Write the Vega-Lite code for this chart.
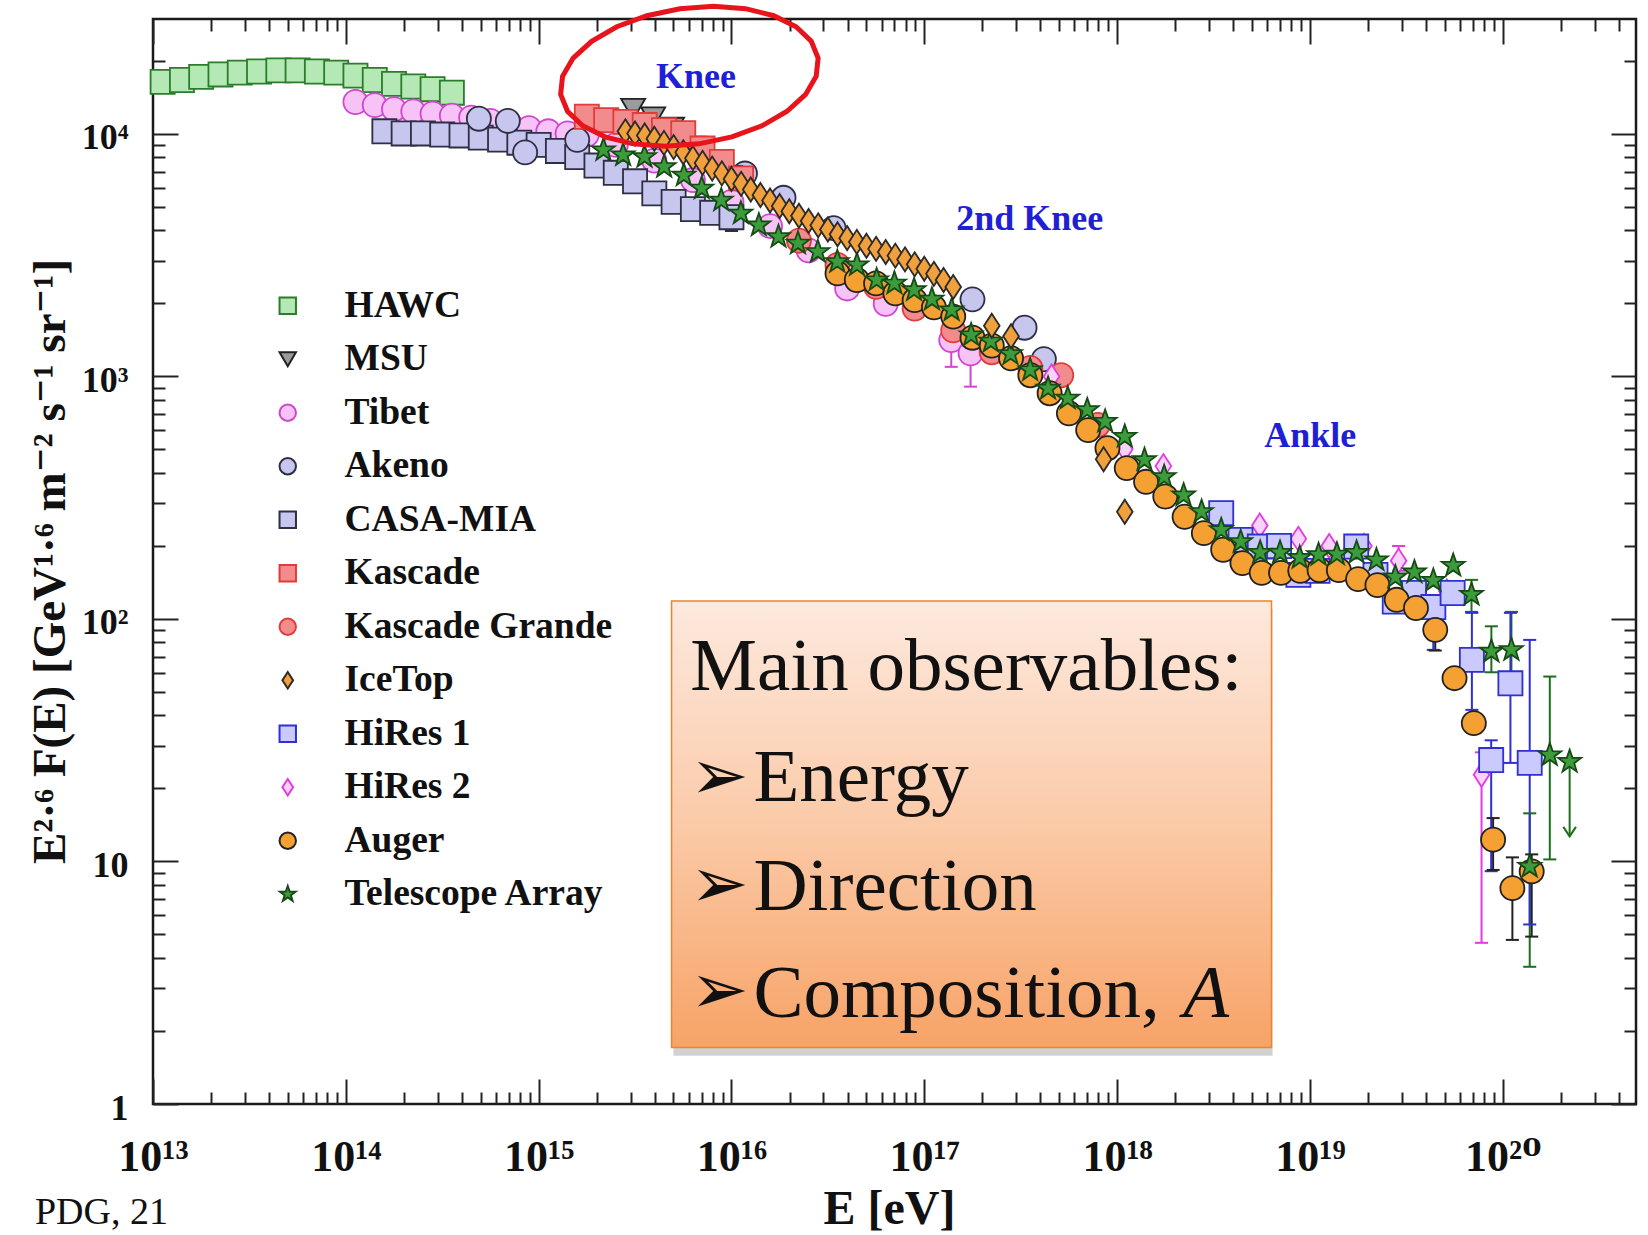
{
"$schema":"https://vega.github.io/schema/vega-lite/v6.json",
"width":1483,"height":1085,
"autosize":"none",
"padding":{"left":153,"top":19,"right":12,"bottom":131},
"background":"#ffffff",
"config":{"view":{"stroke":"#1a1a1a","strokeWidth":2.5},"axis":{"labelFont":"Liberation Serif, DejaVu Serif","titleFont":"Liberation Serif, DejaVu Serif","grid":false},"text":{"font":"Liberation Serif"}},
"resolve":{"axis":{"x":"independent","y":"independent"}},
"datasets":{
"pts":[
{"series":"HAWC","E":1.122e13,"F":16400},{"series":"HAWC","E":1.413e13,"F":16700},{"series":"HAWC","E":1.778e13,"F":17200},{"series":"HAWC","E":2.239e13,"F":17600},{"series":"HAWC","E":2.818e13,"F":17900},{"series":"HAWC","E":3.548e13,"F":18100},{"series":"HAWC","E":4.467e13,"F":18300},{"series":"HAWC","E":5.623e13,"F":18300},{"series":"HAWC","E":7.079e13,"F":18100},{"series":"HAWC","E":8.913e13,"F":17900},{"series":"HAWC","E":1.122e14,"F":17400},{"series":"HAWC","E":1.413e14,"F":16700},{"series":"HAWC","E":1.778e14,"F":16100},{"series":"HAWC","E":2.239e14,"F":15700},{"series":"HAWC","E":2.818e14,"F":15300},{"series":"HAWC","E":3.548e14,"F":14800},
{"series":"Tibet","E":1.122e14,"F":13550},{"series":"Tibet","E":1.413e14,"F":13150},{"series":"Tibet","E":1.778e14,"F":12650},{"series":"Tibet","E":2.239e14,"F":12390},{"series":"Tibet","E":2.818e14,"F":12130},{"series":"Tibet","E":3.548e14,"F":11910},{"series":"Tibet","E":4.467e14,"F":11670},{"series":"Tibet","E":5.623e14,"F":11320},{"series":"Tibet","E":7.079e14,"F":10990},{"series":"Tibet","E":8.913e14,"F":10570},{"series":"Tibet","E":1.122e15,"F":10260},{"series":"Tibet","E":1.413e15,"F":10050},{"series":"Tibet","E":1.778e15,"F":9950},{"series":"Tibet","E":2.512e15,"F":9016},{"series":"Tibet","E":3.981e15,"F":7762},{"series":"Tibet","E":6.31e15,"F":6457},{"series":"Tibet","E":1e16,"F":5248},{"series":"Tibet","E":1.585e16,"F":4169},{"series":"Tibet","E":2.512e16,"F":3311},{"series":"Tibet","E":3.981e16,"F":2307},{"series":"Tibet","E":6.31e16,"F":1995},{"series":"Tibet","E":1.38e17,"F":1413},{"series":"Tibet","E":1.738e17,"F":1247},
{"series":"CASA-MIA","E":1.585e14,"F":10260},{"series":"CASA-MIA","E":1.995e14,"F":10050},{"series":"CASA-MIA","E":2.512e14,"F":10050},{"series":"CASA-MIA","E":3.162e14,"F":9950},{"series":"CASA-MIA","E":3.981e14,"F":9860},{"series":"CASA-MIA","E":5.012e14,"F":9660},{"series":"CASA-MIA","E":6.31e14,"F":9480},{"series":"CASA-MIA","E":7.943e14,"F":9204},{"series":"CASA-MIA","E":1e15,"F":9016},{"series":"CASA-MIA","E":1.259e15,"F":8511},{"series":"CASA-MIA","E":1.585e15,"F":8035},{"series":"CASA-MIA","E":1.995e15,"F":7413},{"series":"CASA-MIA","E":2.512e15,"F":6918},{"series":"CASA-MIA","E":3.162e15,"F":6383},{"series":"CASA-MIA","E":3.981e15,"F":5689},{"series":"CASA-MIA","E":5.012e15,"F":5248},{"series":"CASA-MIA","E":6.31e15,"F":4898},{"series":"CASA-MIA","E":7.943e15,"F":4732},{"series":"CASA-MIA","E":1e16,"F":4539},
{"series":"Akeno","E":4.898e14,"F":11560},{"series":"Akeno","E":6.918e14,"F":11320},{"series":"Akeno","E":8.511e14,"F":8395},{"series":"Akeno","E":1.585e15,"F":9462},{"series":"Akeno","E":1.175e16,"F":6871},{"series":"Akeno","E":1.862e16,"F":5458},{"series":"Akeno","E":3.388e16,"F":4093},{"series":"Akeno","E":1.778e17,"F":2080},{"series":"Akeno","E":3.311e17,"F":1589},{"series":"Akeno","E":4.169e17,"F":1178},
{"series":"MSU","E":3.09e15,"F":12650},{"series":"MSU","E":3.926e15,"F":11670},{"series":"MSU","E":4.92e15,"F":10570},{"series":"MSU","E":6.324e15,"F":8831},{"series":"MSU","E":9.795e15,"F":6683},
{"series":"Kascade","E":1.778e15,"F":11780},{"series":"Kascade","E":2.239e15,"F":11400},{"series":"Kascade","E":2.818e15,"F":11220},{"series":"Kascade","E":3.548e15,"F":10890},{"series":"Kascade","E":4.467e15,"F":10380},{"series":"Kascade","E":5.623e15,"F":10070},{"series":"Kascade","E":7.079e15,"F":8710},{"series":"Kascade","E":8.913e15,"F":7674},{"series":"Kascade","E":1.122e16,"F":6561},
{"series":"Kascade Grande","E":2.239e16,"F":3631},{"series":"Kascade Grande","E":3.548e16,"F":2884},{"series":"Kascade Grande","E":5.623e16,"F":2344},{"series":"Kascade Grande","E":8.913e16,"F":1905},{"series":"Kascade Grande","E":1.413e17,"F":1549},{"series":"Kascade Grande","E":2.239e17,"F":1259},{"series":"Kascade Grande","E":3.548e17,"F":1084},{"series":"Kascade Grande","E":5.129e17,"F":1012},{"series":"Kascade Grande","E":7.943e17,"F":631},
{"series":"HiRes 2","E":4.571e17,"F":1000},{"series":"HiRes 2","E":1.096e18,"F":501},{"series":"HiRes 2","E":1.738e18,"F":427},{"series":"HiRes 2","E":5.495e18,"F":243},{"series":"HiRes 2","E":8.71e18,"F":214},{"series":"HiRes 2","E":1.259e19,"F":200},{"series":"HiRes 2","E":1.905e19,"F":200},{"series":"HiRes 2","E":2.884e19,"F":174},{"series":"HiRes 2","E":5.129e19,"F":130},{"series":"HiRes 2","E":7.762e19,"F":22.8},
{"series":"HiRes 1","E":3.467e18,"F":273},{"series":"HiRes 1","E":4.365e18,"F":212},{"series":"HiRes 1","E":5.495e18,"F":199},{"series":"HiRes 1","E":6.918e18,"F":200},{"series":"HiRes 1","E":8.71e18,"F":152},{"series":"HiRes 1","E":1.096e19,"F":158},{"series":"HiRes 1","E":1.738e19,"F":199},{"series":"HiRes 1","E":2.188e19,"F":152},{"series":"HiRes 1","E":2.754e19,"F":118},{"series":"HiRes 1","E":3.467e19,"F":128},{"series":"HiRes 1","E":4.365e19,"F":112},{"series":"HiRes 1","E":5.495e19,"F":128},{"series":"HiRes 1","E":6.918e19,"F":67.8},{"series":"HiRes 1","E":8.71e19,"F":26.2},{"series":"HiRes 1","E":1.096e20,"F":54.3},{"series":"HiRes 1","E":1.38e20,"F":25.5},
{"series":"Auger","E":3.548e16,"F":2661},{"series":"Auger","E":4.467e16,"F":2500},{"series":"Auger","E":5.623e16,"F":2421},{"series":"Auger","E":7.079e16,"F":2203},{"series":"Auger","E":8.913e16,"F":2065},{"series":"Auger","E":1.122e17,"F":1928},{"series":"Auger","E":1.413e17,"F":1766},{"series":"Auger","E":1.778e17,"F":1445},{"series":"Auger","E":2.239e17,"F":1340},{"series":"Auger","E":2.818e17,"F":1189},{"series":"Auger","E":3.548e17,"F":1012},{"series":"Auger","E":4.467e17,"F":853},{"series":"Auger","E":5.623e17,"F":705},{"series":"Auger","E":7.079e17,"F":601},{"series":"Auger","E":8.913e17,"F":506},{"series":"Auger","E":1.122e18,"F":419},{"series":"Auger","E":1.413e18,"F":368},{"series":"Auger","E":1.778e18,"F":320},{"series":"Auger","E":2.239e18,"F":264},{"series":"Auger","E":2.818e18,"F":226},{"series":"Auger","E":3.548e18,"F":193},{"series":"Auger","E":4.467e18,"F":170},{"series":"Auger","E":5.623e18,"F":155},{"series":"Auger","E":7.079e18,"F":155},{"series":"Auger","E":8.913e18,"F":158},{"series":"Auger","E":1.122e19,"F":159},{"series":"Auger","E":1.413e19,"F":159},{"series":"Auger","E":1.778e19,"F":146},{"series":"Auger","E":2.239e19,"F":138},{"series":"Auger","E":2.818e19,"F":120},{"series":"Auger","E":3.548e19,"F":111},{"series":"Auger","E":4.467e19,"F":90.2},{"series":"Auger","E":5.623e19,"F":57.0},{"series":"Auger","E":7.079e19,"F":37.2},{"series":"Auger","E":8.913e19,"F":12.3},{"series":"Auger","E":1.122e20,"F":7.76},{"series":"Auger","E":1.413e20,"F":9.1},
{"series":"Telescope Array","E":2.168e15,"F":8590},{"series":"Telescope Array","E":2.742e15,"F":8185},{"series":"Telescope Array","E":3.54e15,"F":8054},{"series":"Telescope Array","E":4.477e15,"F":7328},{"series":"Telescope Array","E":5.662e15,"F":6761},{"series":"Telescope Array","E":7.015e15,"F":5970},{"series":"Telescope Array","E":8.851e15,"F":5333},{"series":"Telescope Array","E":1.119e16,"F":4710},{"series":"Telescope Array","E":1.387e16,"F":4207},{"series":"Telescope Array","E":1.754e16,"F":3767},{"series":"Telescope Array","E":2.213e16,"F":3540},{"series":"Telescope Array","E":2.805e16,"F":3266},{"series":"Telescope Array","E":3.54e16,"F":2972},{"series":"Telescope Array","E":4.477e16,"F":2884},{"series":"Telescope Array","E":5.662e16,"F":2500},{"series":"Telescope Array","E":7.0e16,"F":2421},{"series":"Telescope Array","E":8.851e16,"F":2275},{"series":"Telescope Array","E":1.096e17,"F":2080},{"series":"Telescope Array","E":1.387e17,"F":1879},{"series":"Telescope Array","E":1.75e17,"F":1483},{"series":"Telescope Array","E":2.213e17,"F":1396},{"series":"Telescope Array","E":2.8e17,"F":1239},{"series":"Telescope Array","E":3.54e17,"F":1064},{"series":"Telescope Array","E":4.385e17,"F":893},{"series":"Telescope Array","E":5.546e17,"F":813},{"series":"Telescope Array","E":7.0e17,"F":728},{"series":"Telescope Array","E":8.67e17,"F":652},{"series":"Telescope Array","E":1.096e18,"F":565},{"series":"Telescope Array","E":1.387e18,"F":453},{"series":"Telescope Array","E":1.754e18,"F":386},{"series":"Telescope Array","E":2.213e18,"F":324},{"series":"Telescope Array","E":2.742e18,"F":277},{"series":"Telescope Array","E":3.467e18,"F":233},{"series":"Telescope Array","E":4.375e18,"F":208},{"series":"Telescope Array","E":5.521e18,"F":188},{"series":"Telescope Array","E":7.0e18,"F":188},{"series":"Telescope Array","E":8.851e18,"F":179},{"series":"Telescope Array","E":1.109e19,"F":184},{"series":"Telescope Array","E":1.38e19,"F":185},{"series":"Telescope Array","E":1.746e19,"F":188},{"series":"Telescope Array","E":2.213e19,"F":175},{"series":"Telescope Array","E":2.773e19,"F":149},{"series":"Telescope Array","E":3.483e19,"F":156},{"series":"Telescope Array","E":4.365e19,"F":144},{"series":"Telescope Array","E":5.534e19,"F":166},{"series":"Telescope Array","E":6.887e19,"F":126},{"series":"Telescope Array","E":8.73e19,"F":73.5},{"series":"Telescope Array","E":1.109e20,"F":74.6},{"series":"Telescope Array","E":1.38e20,"F":9.53},{"series":"Telescope Array","E":1.754e20,"F":27.5},{"series":"Telescope Array","E":2.223e20,"F":25.8},
{"series":"IceTop","E":2.818e15,"F":10254},{"series":"IceTop","E":3.162e15,"F":10051},{"series":"IceTop","E":3.548e15,"F":9854},{"series":"IceTop","E":3.981e15,"F":9563},{"series":"IceTop","E":4.467e15,"F":9188},{"series":"IceTop","E":5.012e15,"F":8830},{"series":"IceTop","E":5.623e15,"F":8400},{"series":"IceTop","E":6.31e15,"F":7950},{"series":"IceTop","E":7.079e15,"F":7600},{"series":"IceTop","E":7.943e15,"F":7200},{"series":"IceTop","E":8.913e15,"F":6880},{"series":"IceTop","E":1e16,"F":6520},{"series":"IceTop","E":1.122e16,"F":6230},{"series":"IceTop","E":1.259e16,"F":5900},{"series":"IceTop","E":1.413e16,"F":5600},{"series":"IceTop","E":1.585e16,"F":5320},{"series":"IceTop","E":1.778e16,"F":5050},{"series":"IceTop","E":1.995e16,"F":4800},{"series":"IceTop","E":2.239e16,"F":4600},{"series":"IceTop","E":2.512e16,"F":4380},{"series":"IceTop","E":2.818e16,"F":4200},{"series":"IceTop","E":3.162e16,"F":4040},{"series":"IceTop","E":3.548e16,"F":3860},{"series":"IceTop","E":3.981e16,"F":3720},{"series":"IceTop","E":4.467e16,"F":3590},{"series":"IceTop","E":5.012e16,"F":3460},{"series":"IceTop","E":5.623e16,"F":3360},{"series":"IceTop","E":6.31e16,"F":3260},{"series":"IceTop","E":7.079e16,"F":3150},{"series":"IceTop","E":7.943e16,"F":3040},{"series":"IceTop","E":8.913e16,"F":2900},{"series":"IceTop","E":1e17,"F":2780},{"series":"IceTop","E":1.122e17,"F":2650},{"series":"IceTop","E":1.259e17,"F":2500},{"series":"IceTop","E":1.413e17,"F":2340},{"series":"IceTop","E":2.239e17,"F":1619},{"series":"IceTop","E":2.818e17,"F":1466},{"series":"IceTop","E":8.511e17,"F":456},{"series":"IceTop","E":1.096e18,"F":277}
],
"errs":[
{"src":"CASA-MIA","E":1e16,"lo":3981,"hi":5012},
{"src":"Tibet","E":1.38e17,"lo":1096,"hi":1585},
{"src":"Tibet","E":1.738e17,"lo":908,"hi":1349},
{"src":"Telescope Array","E":6.887e19,"lo":107,"hi":145},
{"src":"Telescope Array","E":8.73e19,"lo":60.3,"hi":93.3},
{"src":"Telescope Array","E":1.109e20,"lo":56.2,"hi":107},
{"src":"Telescope Array","E":1.38e20,"lo":3.68,"hi":15.8},
{"src":"Telescope Array","E":1.754e20,"lo":10.2,"hi":57.9},
{"src":"HiRes 1","E":2.754e19,"lo":110,"hi":132},
{"src":"HiRes 1","E":4.365e19,"lo":74.6,"hi":124},
{"src":"HiRes 1","E":6.918e19,"lo":42.2,"hi":106},
{"src":"HiRes 1","E":8.71e19,"lo":9.12,"hi":31.6},
{"src":"HiRes 1","E":1.096e20,"lo":25.5,"hi":106},
{"src":"HiRes 1","E":1.38e20,"lo":5.5,"hi":82},
{"src":"HiRes 2","E":2.884e19,"lo":158,"hi":200},
{"src":"HiRes 2","E":7.762e19,"lo":4.62,"hi":28.2},
{"src":"Auger","E":4.467e19,"lo":74.1,"hi":102},
{"src":"Auger","E":8.913e19,"lo":9.23,"hi":15.1},
{"src":"Auger","E":1.122e20,"lo":4.75,"hi":10.4},
{"src":"Auger","E":1.413e20,"lo":4.9,"hi":10.7}
],
"lim":[{"E":2.223e20,"lo":12.7,"hi":25.8}],
"ann":[{"label":"Knee","E":6.55e15,"F":17200},{"label":"2nd Knee","E":3.52e17,"F":4477},{"label":"Ankle","E":1.005e19,"F":567}],
"ell":[{"E":6.05e15,"F":17300}],
"shadow":[{"x1":5.0e15,"x2":6.4e18,"y1":110,"y2":1.58}],
"box":[{"x1":4.89e15,"x2":6.32e18,"y1":118.5,"y2":1.708}],
"boxtxt":[{"t":"Main observables:","E":6.12e15,"F":50.8},{"t":"Energy","E":1.3e16,"F":17.79},{"t":"Direction","E":1.3e16,"F":6.31},{"t":"Composition,","E":1.3e16,"F":2.281}],
"arrows":[{"E":6.1e15,"F":22.2},{"E":6.1e15,"F":7.94},{"E":6.1e15,"F":2.9}],
"ital":[{"t":"A","E":2.2e18,"F":2.281}],
"srcnote":[{"t":"PDG, 21","E":2.44e12,"F":0.3194}]
},
"layer":[
{"data":{"name":"errs"},"mark":{"type":"rule","strokeWidth":2},
 "encoding":{
  "x":{"field":"E","type":"quantitative","scale":{"type":"log","domain":[1e13,4.91e20],"nice":false},"axis":{"orient":"bottom","values":[1e13,1e14,1e15,1e16,1e17,1e18,1e19,1e20],"labels":false,"domain":false,"grid":false,"ticks":true,"tickSize":25,"tickWidth":2,"tickColor":"#222","offset":-25,"title":null}},
  "y":{"field":"lo","type":"quantitative","scale":{"type":"log","domain":[1,29800],"nice":false},"axis":{"orient":"left","values":[1,10,100,1000,10000],"labels":false,"domain":false,"grid":false,"ticks":true,"tickSize":25,"tickWidth":2,"tickColor":"#222","offset":-25,"title":null}},
  "y2":{"field":"hi"},
  "color":{"field":"src","type":"nominal","scale":{"domain":["CASA-MIA","Tibet","Telescope Array","HiRes 1","HiRes 2","Auger"],"range":["#2e2e44","#d145d1","#1d6e1d","#2f2fd2","#e03ce0","#222222"]},"legend":null}
 }},
{"data":{"name":"errs"},"mark":{"type":"point","shape":"stroke","filled":false,"size":170,"strokeWidth":2,"opacity":1},
 "encoding":{
  "x":{"field":"E","type":"quantitative","scale":{"type":"log","domain":[1e13,4.91e20],"nice":false},"axis":{"orient":"bottom","values":[2e13,3e13,4e13,5e13,6e13,7e13,8e13,9e13,2e14,3e14,4e14,5e14,6e14,7e14,8e14,9e14,2e15,3e15,4e15,5e15,6e15,7e15,8e15,9e15,2e16,3e16,4e16,5e16,6e16,7e16,8e16,9e16,2e17,3e17,4e17,5e17,6e17,7e17,8e17,9e17,2e18,3e18,4e18,5e18,6e18,7e18,8e18,9e18,2e19,3e19,4e19,5e19,6e19,7e19,8e19,9e19,2e20,3e20,4e20],"labels":false,"domain":false,"grid":false,"ticks":true,"tickSize":12,"tickWidth":2,"tickColor":"#222","offset":-12,"title":null}},
  "y":{"field":"lo","type":"quantitative","scale":{"type":"log","domain":[1,29800],"nice":false},"axis":{"orient":"left","values":[2,3,4,5,6,7,8,9,20,30,40,50,60,70,80,90,200,300,400,500,600,700,800,900,2000,3000,4000,5000,6000,7000,8000,9000,20000],"labels":false,"domain":false,"grid":false,"ticks":true,"tickSize":12,"tickWidth":2,"tickColor":"#222","offset":-12,"title":null}},
  "color":{"field":"src","type":"nominal","legend":null}
 }},
{"data":{"name":"errs"},"mark":{"type":"point","shape":"stroke","filled":false,"size":170,"strokeWidth":2,"opacity":1},
 "encoding":{
  "x":{"field":"E","type":"quantitative","scale":{"type":"log","domain":[1e13,4.91e20],"nice":false},"axis":{"orient":"top","values":[1e13,1e14,1e15,1e16,1e17,1e18,1e19,1e20],"labels":false,"domain":false,"grid":false,"ticks":true,"tickSize":25,"tickWidth":2,"tickColor":"#222","offset":-25,"title":null}},
  "y":{"field":"hi","type":"quantitative","scale":{"type":"log","domain":[1,29800],"nice":false},"axis":{"orient":"right","values":[1,10,100,1000,10000],"labels":false,"domain":false,"grid":false,"ticks":true,"tickSize":25,"tickWidth":2,"tickColor":"#222","offset":-25,"title":null}},
  "color":{"field":"src","type":"nominal","legend":null}
 }},
{"data":{"name":"lim"},"mark":{"type":"rule","strokeWidth":2,"color":"#1d6e1d"},
 "encoding":{
  "x":{"field":"E","type":"quantitative","scale":{"type":"log","domain":[1e13,4.91e20],"nice":false},"axis":null},
  "y":{"field":"lo","type":"quantitative","scale":{"type":"log","domain":[1,29800],"nice":false},"axis":null},
  "y2":{"field":"hi"}
 }},
{"data":{"name":"lim"},"mark":{"type":"point","shape":"M-1,-1.5L0,0L1,-1.5","filled":false,"size":160,"strokeWidth":2,"color":"#1d6e1d","opacity":1},
 "encoding":{
  "x":{"field":"E","type":"quantitative","scale":{"type":"log","domain":[1e13,4.91e20],"nice":false},"axis":null},
  "y":{"field":"lo","type":"quantitative","scale":{"type":"log","domain":[1,29800],"nice":false},"axis":null}
 }},
{"data":{"name":"pts"},"mark":{"type":"point","filled":true,"size":580,"strokeWidth":1.8,"opacity":1},
 "encoding":{
  "x":{"field":"E","type":"quantitative","scale":{"type":"log","domain":[1e13,4.91e20],"nice":false},
   "axis":{"orient":"bottom","values":[1e13,1e14,1e15,1e16,1e17,1e18,1e19,1e20],"ticks":false,"tickSize":0,"domain":false,"grid":false,"labelFont":"Liberation Serif, DejaVu Serif","labelFontSize":44,"labelFontWeight":"bold","labelColor":"#111111","labelBaseline":"alphabetic","labelPadding":66,"labelFlush":false,"labelOverlap":false,
    "labelExpr":"datum.value < 3e13 ? '10¹³' : datum.value < 3e14 ? '10¹⁴' : datum.value < 3e15 ? '10¹⁵' : datum.value < 3e16 ? '10¹⁶' : datum.value < 3e17 ? '10¹⁷' : datum.value < 3e18 ? '10¹⁸' : datum.value < 3e19 ? '10¹⁹' : '10²⁰'",
    "title":"E [eV]","titleFont":"Liberation Serif","titleFontSize":48,"titleFontWeight":"bold","titleColor":"#111111","titleX":736,"titleY":119,"titleBaseline":"alphabetic","titleAlign":"center"}},
  "y":{"field":"F","type":"quantitative","scale":{"type":"log","domain":[1,29800],"nice":false},
   "axis":{"orient":"left","values":[1,10,100,1000,10000],"ticks":false,"tickSize":0,"domain":false,"grid":false,"labelFont":"Liberation Serif, DejaVu Serif","labelFontSize":36,"labelFontWeight":"bold","labelColor":"#111111","labelBaseline":"middle","labelPadding":25,"labelOffset":4,"labelFlush":false,"labelOverlap":false,
    "labelExpr":"datum.value < 3 ? '1' : datum.value < 30 ? '10' : datum.value < 300 ? '10²' : datum.value < 3000 ? '10³' : '10⁴'",
    "title":"E²·⁶ F(E) [GeV¹·⁶ m⁻² s⁻¹ sr⁻¹]","titleFont":"Liberation Serif, DejaVu Serif","titleFontSize":47,"titleFontWeight":"bold","titleColor":"#111111","titleAngle":-90,"titleX":-89,"titleY":542,"titleBaseline":"alphabetic","titleAlign":"center"}},
  "fill":{"field":"series","type":"nominal",
   "scale":{"domain":["HAWC","MSU","Tibet","Akeno","CASA-MIA","Kascade","Kascade Grande","IceTop","HiRes 1","HiRes 2","Auger","Telescope Array"],
    "range":["#b4e8b4","#9b9b9b","#f7c3f7","#c6c6ef","#c6c6ef","#f28c8c","#f28c8c","#f0a03c","#cacaff","#fbd2fb","#f5a033","#3c9c3c"]},
   "legend":{"orient":"none","legendX":116,"legendY":268,"title":null,"padding":0,"symbolSize":270,"symbolStrokeWidth":2,"labelFont":"Liberation Serif","labelFontSize":37.5,"labelFontWeight":"bold","labelColor":"#111111","labelOffset":38,"rowPadding":14.5,"labelLimit":0}},
  "stroke":{"field":"series","type":"nominal",
   "scale":{"domain":["HAWC","MSU","Tibet","Akeno","CASA-MIA","Kascade","Kascade Grande","IceTop","HiRes 1","HiRes 2","Auger","Telescope Array"],
    "range":["#2b7d2b","#222222","#d145d1","#2e2e44","#2e2e44","#e23b3b","#e23b3b","#2a2a2a","#2f2fd2","#e03ce0","#222222","#164a16"]},
   "legend":{"orient":"none","legendX":116,"legendY":268,"title":null,"padding":0,"symbolSize":270,"symbolStrokeWidth":2,"labelFont":"Liberation Serif","labelFontSize":37.5,"labelFontWeight":"bold","labelColor":"#111111","labelOffset":38,"rowPadding":14.5,"labelLimit":0}},
  "shape":{"field":"series","type":"nominal",
   "scale":{"domain":["HAWC","MSU","Tibet","Akeno","CASA-MIA","Kascade","Kascade Grande","IceTop","HiRes 1","HiRes 2","Auger","Telescope Array"],
    "range":["square","triangle-down","circle","circle","square","square","circle","M0,-1L0.65,0L0,1L-0.65,0Z","square","M0,-1L0.65,0L0,1L-0.65,0Z","circle","M0,-1L0.235,-0.324L0.951,-0.309L0.38,0.124L0.588,0.809L0,0.4L-0.588,0.809L-0.38,0.124L-0.951,-0.309L-0.235,-0.324Z"]},
   "legend":{"orient":"none","legendX":116,"legendY":268,"title":null,"padding":0,"symbolSize":270,"symbolStrokeWidth":2,"labelFont":"Liberation Serif","labelFontSize":37.5,"labelFontWeight":"bold","labelColor":"#111111","labelOffset":38,"rowPadding":14.5,"labelLimit":0}}
 }},
{"data":{"name":"ann"},"mark":{"type":"text","font":"Liberation Serif","fontSize":36,"fontWeight":"bold","color":"#1f1fd6","align":"center","baseline":"middle"},
 "encoding":{
  "x":{"field":"E","type":"quantitative","scale":{"type":"log","domain":[1e13,4.91e20],"nice":false},"axis":{"orient":"top","values":[2e13,3e13,4e13,5e13,6e13,7e13,8e13,9e13,2e14,3e14,4e14,5e14,6e14,7e14,8e14,9e14,2e15,3e15,4e15,5e15,6e15,7e15,8e15,9e15,2e16,3e16,4e16,5e16,6e16,7e16,8e16,9e16,2e17,3e17,4e17,5e17,6e17,7e17,8e17,9e17,2e18,3e18,4e18,5e18,6e18,7e18,8e18,9e18,2e19,3e19,4e19,5e19,6e19,7e19,8e19,9e19,2e20,3e20,4e20],"labels":false,"domain":false,"grid":false,"ticks":true,"tickSize":12,"tickWidth":2,"tickColor":"#222","offset":-12,"title":null}},
  "y":{"field":"F","type":"quantitative","scale":{"type":"log","domain":[1,29800],"nice":false},"axis":{"orient":"right","values":[2,3,4,5,6,7,8,9,20,30,40,50,60,70,80,90,200,300,400,500,600,700,800,900,2000,3000,4000,5000,6000,7000,8000,9000,20000],"labels":false,"domain":false,"grid":false,"ticks":true,"tickSize":12,"tickWidth":2,"tickColor":"#222","offset":-12,"title":null}},
  "text":{"field":"label"}
 }},
{"data":{"name":"ell"},"mark":{"type":"point","shape":"M1,0L0.966,0.136L0.866,0.263L0.707,0.371L0.5,0.455L0.259,0.507L0,0.525L-0.259,0.507L-0.5,0.455L-0.707,0.371L-0.866,0.263L-0.966,0.136L-1,0L-0.966,-0.136L-0.866,-0.263L-0.707,-0.371L-0.5,-0.455L-0.259,-0.507L0,-0.525L0.259,-0.507L0.5,-0.455L0.707,-0.371L0.866,-0.263L0.966,-0.136Z","filled":false,"size":67600,"angle":-8,"strokeWidth":5,"color":"#e8141c","opacity":1},
 "encoding":{
  "x":{"field":"E","type":"quantitative","scale":{"type":"log","domain":[1e13,4.91e20],"nice":false},"axis":null},
  "y":{"field":"F","type":"quantitative","scale":{"type":"log","domain":[1,29800],"nice":false},"axis":null}
 }},
{"data":{"name":"shadow"},"mark":{"type":"rect","color":"#000000","opacity":0.18},
 "encoding":{
  "x":{"field":"x1","type":"quantitative","scale":{"type":"log","domain":[1e13,4.91e20],"nice":false},"axis":null},
  "x2":{"field":"x2"},
  "y":{"field":"y1","type":"quantitative","scale":{"type":"log","domain":[1,29800],"nice":false},"axis":null},
  "y2":{"field":"y2"}
 }},
{"data":{"name":"box"},"mark":{"type":"rect","stroke":"#e9862e","strokeWidth":1.5,"fill":{"gradient":"linear","x1":0,"y1":0,"x2":0,"y2":1,"stops":[{"offset":0,"color":"#fde9de"},{"offset":0.5,"color":"#fbcaa8"},{"offset":1,"color":"#f7a367"}]}},
 "encoding":{
  "x":{"field":"x1","type":"quantitative","scale":{"type":"log","domain":[1e13,4.91e20],"nice":false},"axis":null},
  "x2":{"field":"x2"},
  "y":{"field":"y1","type":"quantitative","scale":{"type":"log","domain":[1,29800],"nice":false},"axis":null},
  "y2":{"field":"y2"}
 }},
{"data":{"name":"boxtxt"},"mark":{"type":"text","font":"Liberation Serif","fontSize":75,"color":"#111111","align":"left","baseline":"alphabetic"},
 "encoding":{
  "x":{"field":"E","type":"quantitative","scale":{"type":"log","domain":[1e13,4.91e20],"nice":false},"axis":null},
  "y":{"field":"F","type":"quantitative","scale":{"type":"log","domain":[1,29800],"nice":false},"axis":null},
  "text":{"field":"t"}
 }},
{"data":{"name":"ital"},"mark":{"type":"text","font":"Liberation Serif","fontSize":75,"fontStyle":"italic","color":"#111111","align":"left","baseline":"alphabetic"},
 "encoding":{
  "x":{"field":"E","type":"quantitative","scale":{"type":"log","domain":[1e13,4.91e20],"nice":false},"axis":null},
  "y":{"field":"F","type":"quantitative","scale":{"type":"log","domain":[1,29800],"nice":false},"axis":null},
  "text":{"field":"t"}
 }},
{"data":{"name":"arrows"},"mark":{"type":"text","text":"➢","font":"DejaVu Sans","fontSize":70,"color":"#111111","align":"left","baseline":"middle"},
 "encoding":{
  "x":{"field":"E","type":"quantitative","scale":{"type":"log","domain":[1e13,4.91e20],"nice":false},"axis":null},
  "y":{"field":"F","type":"quantitative","scale":{"type":"log","domain":[1,29800],"nice":false},"axis":null}
 }},
{"data":{"name":"srcnote"},"mark":{"type":"text","font":"Liberation Serif","fontSize":38,"color":"#111111","align":"left","baseline":"alphabetic"},
 "encoding":{
  "x":{"field":"E","type":"quantitative","scale":{"type":"log","domain":[1e13,4.91e20],"nice":false},"axis":null},
  "y":{"field":"F","type":"quantitative","scale":{"type":"log","domain":[1,29800],"nice":false},"axis":null},
  "text":{"field":"t"}
 }}
]
}
